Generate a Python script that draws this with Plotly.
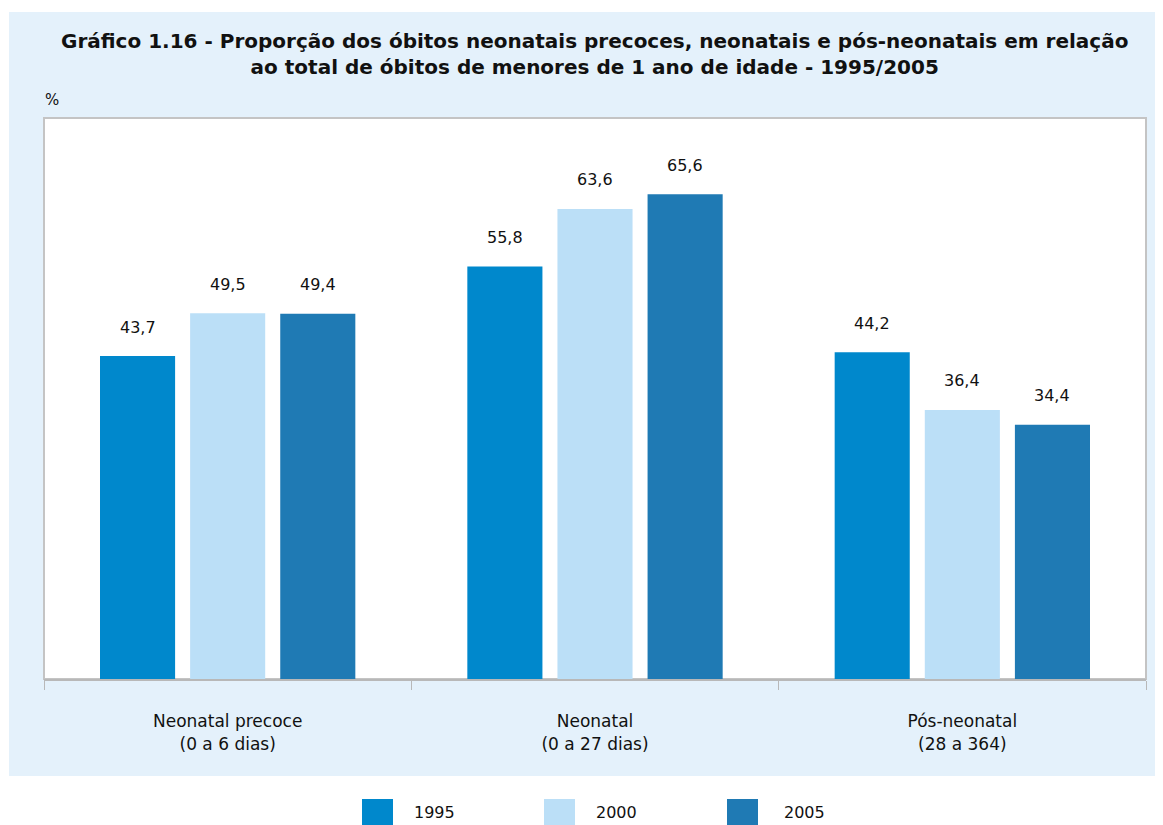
import plotly.graph_objects as go

categories = ["Neonatal precoce<br>(0 a 6 dias)", "Neonatal<br>(0 a 27 dias)", "Pós-neonatal<br>(28 a 364)"]
years = ["1995", "2000", "2005"]
values_1995 = [43.7, 55.8, 44.2]
values_2000 = [49.5, 63.6, 36.4]
values_2005 = [49.4, 65.6, 34.4]
colors = ["#0088CC", "#BBDFF7", "#1F7AB4"]

series = [values_1995, values_2000, values_2005]

# page has an 8px body margin; work in screen pixels and shift
OFF = 8
W, H = 1163 - OFF, 825 - OFF
L, R, T, B = 44, 1146, 118, 679          # screen pixels of plot area
pw, ph = R - L, B - T

def px(x):
    return (x - L) / pw

def py(y):
    return (B - y) / ph

FONT = "DejaVu Sans, Liberation Sans, Arial, sans-serif"
TXT = "#111111"

fig = go.Figure()
for name, vals, col in zip(years, series, colors):
    fig.add_trace(go.Bar(x=categories, y=vals, name=name, marker=dict(color=col, line=dict(width=0)),
                         showlegend=False))

shapes = [
    dict(type="rect", xref="paper", yref="paper", x0=px(9), x1=px(1175), y0=py(776), y1=py(12),
         fillcolor="#E4F1FB", line=dict(width=0), layer="below"),
    dict(type="rect", xref="paper", yref="paper", x0=0, x1=1, y0=0, y1=1,
         fillcolor="white", line=dict(color="#C4C4C4", width=2), layer="below"),
]
annotations = []
offsets = [-90, 0, 90]
for vals, off in zip(series, offsets):
    for c, v in zip(categories, vals):
        annotations.append(dict(x=c, y=v, xref="x", yref="y", xshift=off, yshift=29,
                                text=f"{v:.1f}".replace(".", ","), showarrow=False,
                                font=dict(size=16, color=TXT, family=FONT)))

# legend (custom swatches)
sw_x = [362, 544, 727]
txt_x = [412, 594, 782]
for i, (name, col) in enumerate(zip(years, colors)):
    shapes.append(dict(type="rect", xref="paper", yref="paper", x0=px(sw_x[i]), x1=px(sw_x[i] + 31),
                       y0=py(830), y1=py(799), fillcolor=col, line=dict(width=0)))
    annotations.append(dict(x=px(txt_x[i]), y=py(812), xref="paper", yref="paper", xanchor="left",
                            yanchor="middle", text=name, showarrow=False,
                            font=dict(size=16, color=TXT, family=FONT)))

annotations.append(dict(x=px(43), y=py(100), xref="paper", yref="paper", xanchor="left", yanchor="middle",
                        text="%", showarrow=False, font=dict(size=15, color=TXT, family=FONT)))
annotations.append(dict(x=px(594), y=py(54), xref="paper", yref="paper", xanchor="center", yanchor="middle",
                        text="<b>Gráfico 1.16 - Proporção dos óbitos neonatais precoces, neonatais e pós-neonatais em relação<br>ao total de óbitos de menores de 1 ano de idade - 1995/2005</b>",
                        showarrow=False, font=dict(size=20, color=TXT, family=FONT)))

fig.update_layout(
    width=W, height=H,
    margin=dict(l=L - OFF, r=W - (R - OFF), t=T - OFF, b=H - (B - OFF), pad=0),
    paper_bgcolor="white", plot_bgcolor="rgba(0,0,0,0)",
    barmode="group", bargap=0.264, bargroupgap=0.1667,
    shapes=shapes, annotations=annotations,
    showlegend=False,
    font=dict(family=FONT, color=TXT, size=16),
)
fig.update_xaxes(showline=True, linecolor="#B8B8B8", linewidth=2, tickson="boundaries", ticks="outside",
                 ticklen=9, tickcolor="#B8B8B8", tickwidth=1, showgrid=False,
                 tickfont=dict(size=17, family=FONT, color=TXT), ticklabelstandoff=26)
fig.update_yaxes(range=[0, 75.9], showticklabels=False, showgrid=False, zeroline=False, showline=False)

fig.write_html("out.html")
